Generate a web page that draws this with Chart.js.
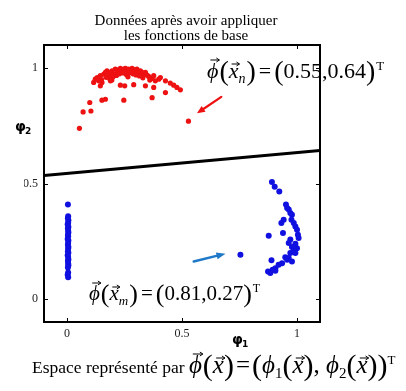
<!DOCTYPE html>
<html><head><meta charset="utf-8">
<script src="https://cdn.jsdelivr.net/npm/chart.js@4/dist/chart.umd.min.js"></script>
<style>html,body{margin:0;padding:0;background:#fff;overflow:hidden}canvas{display:block}</style>
</head><body>
<canvas id="c" width="406" height="391"></canvas>
<script>
// ---------- data ----------
const titleLines = ['Données après avoir appliquer', 'les fonctions de base'];
const tickValues = [0, 0.5, 1];
const tickLabels = ['0', '0.5', '1'];
const axisMin = -0.1, axisMax = 1.1;

const redX = [0.116,0.123,0.131,0.138,0.145,0.160,0.167,0.174,0.181,0.189,0.196,0.203,0.210,0.218,0.225,0.232,0.239,0.247,0.254,0.261,0.268,0.276,0.283,0.290,0.297,0.304,0.312,0.319,0.326,0.333,0.341,0.348,0.355,0.370,0.377,0.384,0.399,0.406,0.428,0.449,0.464,0.478,0.493,
  0.170,0.185,0.200,0.215,0.228,0.243,0.258,0.272,0.287,0.300,0.315,0.330,0.150,0.195,0.265,0.360,
  0.145,0.152,0.189,0.232,0.251,0.290,0.341,0.377,0.152,0.167,0.247,0.370,0.428,
  0.099,0.104,0.070,0.054,0.528];
const redY = [0.938,0.952,0.959,0.945,0.967,0.974,0.981,0.988,0.967,0.981,0.988,0.974,0.996,0.981,0.993,0.999,0.988,0.996,0.999,0.991,0.996,0.988,0.999,0.993,0.988,0.996,0.984,0.988,0.981,0.974,0.981,0.970,0.964,0.955,0.967,0.945,0.952,0.959,0.945,0.935,0.926,0.916,0.906,
  0.960,0.955,0.962,0.968,0.975,0.979,0.972,0.980,0.975,0.970,0.966,0.958,0.950,0.948,0.962,0.948,
  0.923,0.938,0.945,0.926,0.923,0.928,0.923,0.916,0.861,0.865,0.861,0.872,0.894,
  0.851,0.814,0.810,0.739,0.770];

const blueColX = [0.004,0.005,0.004,0.006,0.005,0.003,0.006,0.004,0.005,0.006,0.004,0.005,0.003,0.006,0.005,0.004,0.006,0.005,0.004,0.006,0.003,0.005,0.006,0.004,0.005,0.006,0.004,0.005,0.003,0.005];
const blueColY = [0.409,0.358,0.350,0.341,0.330,0.323,0.312,0.306,0.295,0.288,0.277,0.271,0.260,0.253,0.242,0.235,0.225,0.218,0.207,0.200,0.189,0.182,0.171,0.164,0.153,0.146,0.136,0.114,0.105,0.094];

const blueClX = [0.891,0.903,0.923,0.952,0.957,0.964,0.971,0.978,0.976,0.942,0.932,0.986,0.993,1.000,0.939,1.004,0.877,1.007,0.971,0.964,0.993,0.978,1.000,0.986,0.971,0.993,0.949,0.964,0.957,0.978,0.889,0.935,0.920,0.906,0.894,0.874,0.884,0.906,0.754];
const blueClY = [0.506,0.486,0.465,0.409,0.394,0.387,0.372,0.365,0.343,0.343,0.329,0.329,0.314,0.300,0.286,0.278,0.274,0.264,0.257,0.242,0.239,0.225,0.220,0.206,0.199,0.199,0.181,0.177,0.170,0.162,0.167,0.155,0.148,0.133,0.126,0.119,0.112,0.122,0.191];

const lineX = [-0.1, 1.1];
const lineY = [0.535, 0.643];

// annotation arrows in data coordinates: [tailX, tailY, headX, headY]
const arrowN = [0.671, 0.875, 0.565, 0.804];
const arrowM = [0.551, 0.162, 0.689, 0.196];

// ---------- styling ----------
const SERIF = "'Liberation Serif','Times New Roman','DejaVu Serif',serif";
const toPts = (xs, ys) => xs.map((x, i) => ({x, y: ys[i]}));

function drawArrow(ctx, x0, y0, x1, y1, color, lw, hl, hw) {
  const a = Math.atan2(y1 - y0, x1 - x0);
  ctx.save();
  ctx.strokeStyle = color; ctx.fillStyle = color; ctx.lineWidth = lw; ctx.lineCap = 'round';
  ctx.beginPath();
  ctx.moveTo(x0, y0);
  ctx.lineTo(x1 - Math.cos(a) * hl * 0.8, y1 - Math.sin(a) * hl * 0.8);
  ctx.stroke();
  ctx.beginPath();
  ctx.moveTo(x1, y1);
  ctx.lineTo(x1 - Math.cos(a) * hl - Math.sin(a) * hw / 2, y1 - Math.sin(a) * hl + Math.cos(a) * hw / 2);
  ctx.lineTo(x1 - Math.cos(a) * hl + Math.sin(a) * hw / 2, y1 - Math.sin(a) * hl - Math.cos(a) * hw / 2);
  ctx.closePath();
  ctx.fill();
  ctx.restore();
}

function vecArrow(ctx, x0, x1, y) {
  ctx.save();
  ctx.strokeStyle = '#000'; ctx.lineWidth = 1;
  ctx.beginPath();
  ctx.moveTo(x0, y); ctx.lineTo(x1, y);
  ctx.moveTo(x1 - 3, y - 2); ctx.lineTo(x1, y); ctx.lineTo(x1 - 3, y + 2);
  ctx.stroke();
  ctx.restore();
}

function drawMath(ctx, x, y, tokens) {
  ctx.save();
  ctx.fillStyle = '#000';
  ctx.textBaseline = 'alphabetic';
  ctx.textAlign = 'left';
  for (const tk of tokens) {
    ctx.font = tk.f;
    const dy = tk.dy || 0;
    ctx.fillText(tk.t, x, y + dy);
    const w = ctx.measureText(tk.t).width;
    if (tk.vec) vecArrow(ctx, x + w * 0.3, x + w + 1, y + dy - tk.vec);
    x += w + (tk.sp || 0);
  }
  ctx.restore();
}

function eqTokens(idx, vals, s) {
  const big = `${Math.round(s * 1.25)}px ${SERIF}`;
  const norm = `${s}px ${SERIF}`;
  const ital = `italic ${s}px ${SERIF}`;
  const sub = `italic ${Math.round(s * 0.62)}px ${SERIF}`;
  const sup = `${Math.round(s * 0.58)}px ${SERIF}`;
  return [
    {t: 'ϕ', f: ital, vec: Math.round(s * 0.8), sp: 1},
    {t: '(', f: big, dy: 2},
    {t: 'x', f: ital, vec: Math.round(s * 0.62)},
    {t: idx, f: sub, dy: 5, sp: 1},
    {t: ')', f: big, dy: 2, sp: 3},
    {t: '=', f: norm, sp: 3},
    {t: '(', f: big, dy: 2},
    {t: vals, f: norm},
    {t: ')', f: big, dy: 2, sp: 1},
    {t: 'T', f: sup, dy: -8}
  ];
}

const capNorm = `17.5px ${SERIF}`;
const capItal = `italic 25px ${SERIF}`;
const capBig = `30px ${SERIF}`;
const capBase = `25px ${SERIF}`;
const capSub = `15px ${SERIF}`;
const captionTokens = [
  {t: 'Espace représenté par ', f: capNorm},
  {t: 'ϕ', f: capItal, vec: 19, sp: 1},
  {t: '(', f: capBig, dy: 2},
  {t: 'x', f: capItal, vec: 15},
  {t: ')', f: capBig, dy: 2, sp: 2},
  {t: '=', f: capBase, sp: 2},
  {t: '(', f: capBig, dy: 2},
  {t: 'ϕ', f: capItal},
  {t: '1', f: capSub, dy: 5},
  {t: '(', f: capBig, dy: 2},
  {t: 'x', f: capItal, vec: 15},
  {t: ')', f: capBig, dy: 2},
  {t: ', ', f: capBase},
  {t: 'ϕ', f: capItal},
  {t: '2', f: capSub, dy: 5},
  {t: '(', f: capBig, dy: 2},
  {t: 'x', f: capItal, vec: 15},
  {t: '))', f: capBig, dy: 2},
  {t: 'T', f: `13px ${SERIF}`, dy: -9}
];

const decor = {
  id: 'decor',
  beforeDraw(chart) {
    const ctx = chart.ctx;
    ctx.save(); ctx.fillStyle = '#fff'; ctx.fillRect(0, 0, chart.width, chart.height); ctx.restore();
  },
  afterDraw(chart) {
    const ctx = chart.ctx, a = chart.chartArea, xs = chart.scales.x, ys = chart.scales.y;
    ctx.save();
    // frame
    ctx.strokeStyle = '#000'; ctx.lineWidth = 2;
    ctx.strokeRect(a.left, a.top, a.right - a.left, a.bottom - a.top);
    // inward ticks
    ctx.lineWidth = 1;
    ctx.beginPath();
    for (const v of tickValues) {
      const px = Math.round(xs.getPixelForValue(v)) + 0.5;
      ctx.moveTo(px, a.bottom); ctx.lineTo(px, a.bottom - 4);
      ctx.moveTo(px, a.top); ctx.lineTo(px, a.top + 4);
      const py = Math.round(ys.getPixelForValue(v)) + 0.5;
      ctx.moveTo(a.left, py); ctx.lineTo(a.left + 4, py);
      ctx.moveTo(a.right, py); ctx.lineTo(a.right - 4, py);
    }
    ctx.stroke();
    // title
    ctx.fillStyle = '#000';
    ctx.font = `15px ${SERIF}`;
    ctx.textAlign = 'center'; ctx.textBaseline = 'alphabetic';
    ctx.fillText(titleLines[0], 186, 25);
    ctx.fillText(titleLines[1], 186, 40);
    // axis labels
    ctx.textAlign = 'left';
    ctx.font = "bold 14px 'DejaVu Sans', sans-serif";
    ctx.fillText('φ', 232, 344);
    ctx.fillText('φ', 15, 131);
    ctx.font = "bold 9px 'DejaVu Sans', sans-serif";
    ctx.fillText('1', 242, 347);
    ctx.fillText('2', 25, 134);
    ctx.restore();
    // arrows
    drawArrow(ctx, xs.getPixelForValue(arrowN[0]), ys.getPixelForValue(arrowN[1]),
      xs.getPixelForValue(arrowN[2]), ys.getPixelForValue(arrowN[3]), '#ee1111', 2.2, 8, 7);
    drawArrow(ctx, xs.getPixelForValue(arrowM[0]), ys.getPixelForValue(arrowM[1]),
      xs.getPixelForValue(arrowM[2]), ys.getPixelForValue(arrowM[3]), '#1f78c8', 2.5, 9, 7);
    // equations
    drawMath(ctx, 207, 78, eqTokens('n', '0.55,0.64', 22));
    drawMath(ctx, 89, 300, eqTokens('m', '0.81,0.27', 21));
    drawMath(ctx, 32, 373, captionTokens);
  }
};

const scaleBase = (fit, pad) => ({
  type: 'linear',
  min: axisMin, max: axisMax,
  grid: {display: false, drawTicks: false},
  border: {display: false},
  ticks: {
    font: {family: SERIF, size: 12}, color: '#222',
    autoSkip: false, maxRotation: 0, padding: pad,
    callback: (v, i) => tickLabels[i]
  },
  afterBuildTicks: s => { s.ticks = tickValues.map(v => ({value: v})); },
  afterFit: fit
});

new Chart(document.getElementById('c'), {
  type: 'scatter',
  data: {
    datasets: [
      {data: toPts(lineX, lineY), type: 'line', borderColor: '#000', borderWidth: 3, pointRadius: 0, showLine: true, fill: false, order: 0},
      {data: toPts(redX, redY), backgroundColor: '#ee1111', borderWidth: 0, pointRadius: 2.6, order: 1},
      {data: toPts(blueColX, blueColY), backgroundColor: '#1010e0', borderWidth: 0, pointRadius: 3, order: 1},
      {data: toPts(blueClX, blueClY), backgroundColor: '#1010e0', borderWidth: 0, pointRadius: 3, order: 1}
    ]
  },
  options: {
    responsive: false, animation: false, devicePixelRatio: 1,
    layout: {padding: {left: 24, right: 86, top: 45, bottom: 0}},
    plugins: {legend: {display: false}, tooltip: {enabled: false}, title: {display: false}},
    scales: {
      x: scaleBase(s => { s.height = 69; }, 5),
      y: scaleBase(s => { s.width = 20; }, 6)
    }
  },
  plugins: [decor]
});
</script>
</body></html>
